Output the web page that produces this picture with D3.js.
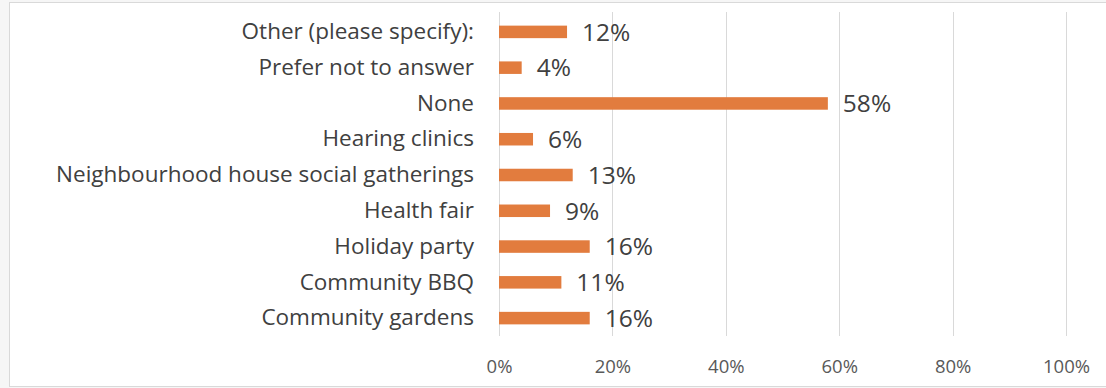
<!DOCTYPE html>
<html>
<head>
<meta charset="utf-8">
<script src="https://cdn.jsdelivr.net/npm/d3@7"></script>
<style>
  html, body { margin: 0; padding: 0; background: #f6f6f6; }
  svg { display: block; }
</style>
</head>
<body>
<svg id="chart" width="1106" height="388"></svg>
<script>
// Survey responses: events attended (share of respondents)
const categories = [
  "Other (please specify):",
  "Prefer not to answer",
  "None",
  "Hearing clinics",
  "Neighbourhood house social gatherings",
  "Health fair",
  "Holiday party",
  "Community BBQ",
  "Community gardens"
];
const values = [12, 4, 58, 6, 13, 9, 16, 11, 16];
const tickValues = [0, 20, 40, 60, 80, 100];

const svg = d3.select("#chart");
const W = 1106, H = 388;

// chart frame
svg.append("rect")
  .attr("x", 9.5).attr("y", 2.5)
  .attr("width", W + 10).attr("height", H - 4)
  .attr("fill", "#ffffff")
  .attr("stroke", "#d9d9d9")
  .attr("stroke-width", 1);

const plot = { left: 499, right: 1066, top: 14, bottom: 336 };

const x = d3.scaleLinear().domain([0, 100]).range([plot.left, plot.right]);
const y = d3.scaleBand().domain(categories).range([plot.top, plot.bottom]).paddingInner(0.65).paddingOuter(0.325);

// vertical gridlines
svg.append("g")
  .selectAll("line")
  .data(tickValues)
  .join("line")
  .attr("x1", d => Math.round(x(d)) + 0.5)
  .attr("x2", d => Math.round(x(d)) + 0.5)
  .attr("y1", plot.top - 2)
  .attr("y2", plot.bottom)
  .attr("stroke", "#d9d9d9")
  .attr("stroke-width", 1);

// x axis tick labels
const xAxis = d3.axisBottom(x)
  .tickValues(tickValues)
  .tickFormat(d => d + "%")
  .tickSize(0)
  .tickPadding(0);
const gx = svg.append("g")
  .attr("transform", `translate(0, ${plot.bottom + 24})`)
  .call(xAxis);
gx.select(".domain").remove();
gx.selectAll("text")
  .attr("font-family", "'Open Sans', sans-serif")
  .attr("font-size", 18.5)
  .attr("fill", "#595959");

// y axis category labels
const yAxis = d3.axisLeft(y).tickSize(0).tickPadding(25);
const gy = svg.append("g")
  .attr("transform", `translate(${plot.left}, 0)`)
  .call(yAxis);
gy.select(".domain").remove();
gy.selectAll("text")
  .attr("font-family", "'Open Sans', sans-serif")
  .attr("font-size", 22.5)
  .attr("fill", "#404040");

// bars
svg.append("g")
  .selectAll("rect")
  .data(categories.map((c, i) => ({ c, v: values[i] })))
  .join("rect")
  .attr("x", x(0))
  .attr("y", d => y(d.c))
  .attr("width", d => x(d.v) - x(0))
  .attr("height", y.bandwidth())
  .attr("fill", "#e27c3e");

// value labels
svg.append("g")
  .selectAll("text")
  .data(categories.map((c, i) => ({ c, v: values[i] })))
  .join("text")
  .attr("x", d => x(d.v) + 15)
  .attr("y", d => y(d.c) + y.bandwidth() / 2)
  .attr("dy", "0.36em")
  .attr("font-family", "'Open Sans', sans-serif")
  .attr("font-size", 24.5)
  .attr("fill", "#404040")
  .text(d => d.v + "%");
</script>
</body>
</html>
